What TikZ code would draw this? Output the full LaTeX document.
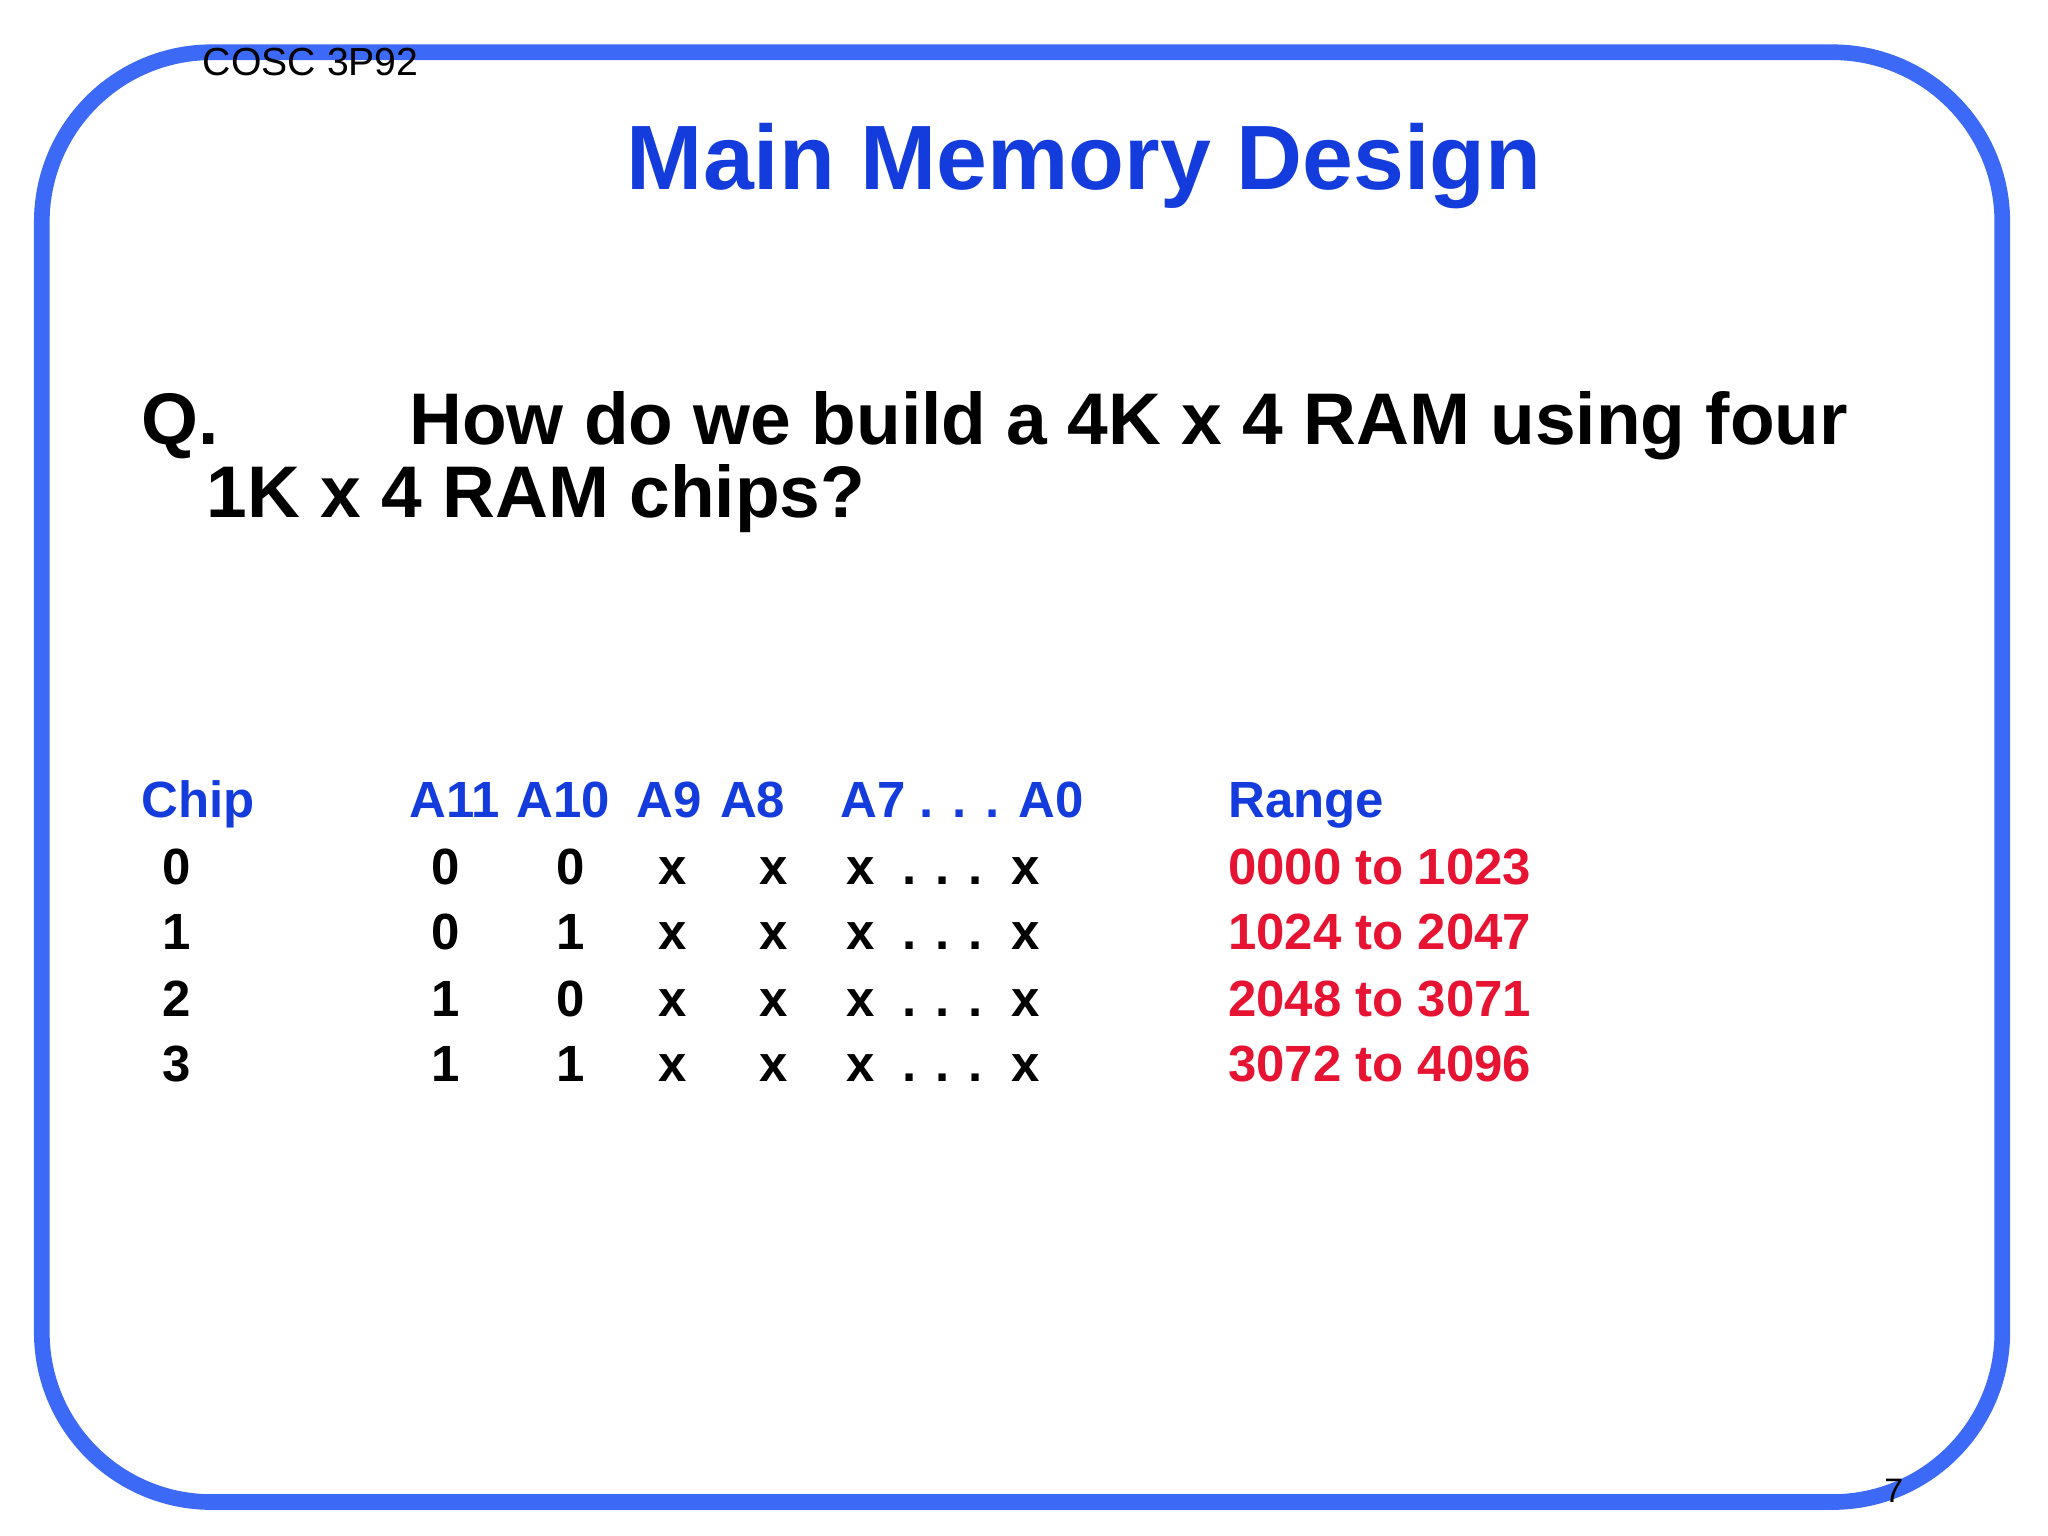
\documentclass[tikz,border=0pt]{standalone}
\usepackage{fontspec}
\setmainfont{Liberation Sans}
\definecolor{frameblue}{RGB}{60,105,245}
\definecolor{titleblue}{RGB}{20,60,220}
\definecolor{rangered}{RGB}{230,20,50}
\begin{document}
\begin{tikzpicture}[x=0.5pt,y=-0.5pt,
  hdr/.style={font=\fontsize{19.5}{22}\selectfont\bfseries,text=titleblue,anchor=base west,inner sep=0},
  cell/.style={font=\fontsize{19.5}{22}\selectfont\bfseries,anchor=base,inner sep=0},
  rng/.style={font=\fontsize{19.5}{22}\selectfont\bfseries,text=rangered,anchor=base west,inner sep=0},
  q/.style={font=\fontsize{28}{32}\selectfont\bfseries,anchor=base west,inner sep=0}]
\useasboundingbox (0,0) rectangle (1568,1176);
\draw[frameblue,line width=6pt,rounded corners=65pt] (32,40) rectangle (1533,1150);
\node[anchor=base west,inner sep=0,font=\fontsize{15}{17}\selectfont] (course) at (155,58) {COSC 3P92};
\node[anchor=base,inner sep=0,font=\fontsize{35}{40}\selectfont\bfseries,text=titleblue] (title) at (830,145) {Main Memory Design};
\node[q] (qq) at (108,340) {Q.};
\node[q] (q1) at (313,340) {How do we build a 4K x 4 RAM using four};
\node[q] (q2) at (158,396) {1K x 4 RAM chips?};
\node[hdr] (hchip) at (108,626) {Chip};
\node[hdr] (h11) at (313,626) {A11};
\node[hdr] (h10) at (395,626) {A10};
\node[hdr] (h9) at (487,626) {A9};
\node[hdr] (h8) at (551,626) {A8};
\node[hdr] (h7) at (643,626) {A7 . . . A0};
\node[hdr] (hr) at (940,626) {Range};
\foreach \c/\a/\b/\r/\y in {0/0/0/0000 to 1023/677, 1/0/1/1024 to 2047/727, 2/1/0/2048 to 3071/778, 3/1/1/3072 to 4096/828}{
  \node[cell] (c\c) at (135,\y) {\c};
  \node[cell] (a\c) at (341,\y) {\a};
  \node[cell] (b\c) at (437,\y) {\b};
  \node[cell] (x1\c) at (515,\y) {x};
  \node[cell] (x2\c) at (592,\y) {x};
  \node[cell] (x3\c) at (659,\y) {x};
  \node[cell] (d\c) at (722,\y) {. . .};
  \node[cell] (x4\c) at (785,\y) {x};
  \node[rng] (r\c) at (940,\y) {\r};
}
\node[anchor=base,inner sep=0,font=\fontsize{13}{15}\selectfont] (pg) at (1450,1150) {7};
\end{tikzpicture}
\end{document}
